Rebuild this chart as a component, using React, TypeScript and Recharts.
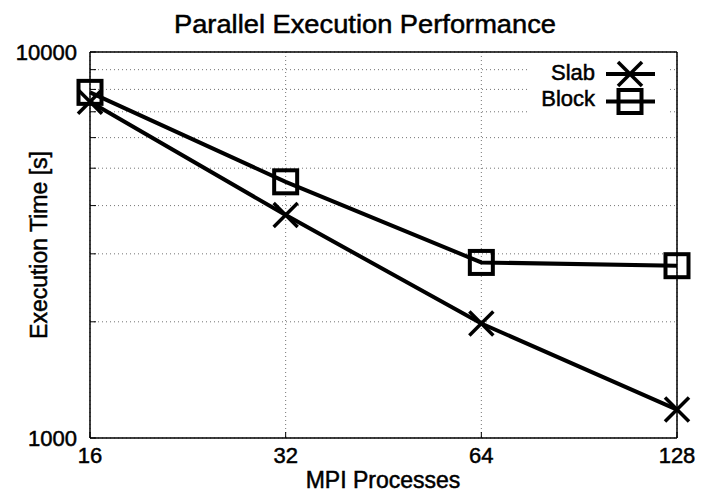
import React from 'react';
import { LineChart, Line, XAxis, YAxis, CartesianGrid, Legend } from 'recharts';

const processes = [16, 32, 64, 128];
const slabTimes = [7430, 3780, 1980, 1185];
const blockTimes = [7860, 4610, 2850, 2795];
const xTicks = [16, 32, 64, 128];
const yTicks = [1000, 2000, 3000, 4000, 5000, 6000, 7000, 8000, 9000, 10000];
const yLabeled = [1000, 10000];
const title = 'Parallel Execution Performance';
const xLabel = 'MPI Processes';
const yLabel = 'Execution Time [s]';
const seriesNames = ['Slab', 'Block'];

const data = processes.map((p, i) => ({ p, slab: slabTimes[i], block: blockTimes[i] }));

const FONT = '"Liberation Sans", Arial, sans-serif';
const tickStyle = { fill: '#000', fontSize: 22, fontFamily: FONT, stroke: '#000', strokeWidth: 0.5 };

const XMark = ({ cx, cy, r = 12 }: { cx: number; cy: number; r?: number }) => (
  <g>
    <line x1={cx - r} y1={cy - r} x2={cx + r} y2={cy + r} stroke="#000" strokeWidth={3.5} />
    <line x1={cx - r} y1={cy + r} x2={cx + r} y2={cy - r} stroke="#000" strokeWidth={3.5} />
  </g>
);

const SquareMark = ({ cx, cy, r = 11.5 }: { cx: number; cy: number; r?: number }) => (
  <rect x={cx - r} y={cy - r} width={2 * r} height={2 * r} fill="none" stroke="#000" strokeWidth={4} />
);

const renderXDot = (props: any) => {
  const { cx, cy, index } = props;
  if (cx == null || cy == null) return <g key={`xd-${index}`} />;
  return (
    <g key={`xd-${index}`}>
      <XMark cx={cx} cy={cy} />
    </g>
  );
};

const renderSqDot = (props: any) => {
  const { cx, cy, index } = props;
  if (cx == null || cy == null) return <g key={`sd-${index}`} />;
  return (
    <g key={`sd-${index}`}>
      <SquareMark cx={cx} cy={cy} />
    </g>
  );
};

const legendText = { fontSize: 22, fontFamily: FONT, fill: '#000', stroke: '#000', strokeWidth: 0.5 };

const LegendContent = () => (
  <svg width={140} height={60} style={{ display: 'block', background: '#fff' }}>
    <text x={68} y={22} textAnchor="end" {...legendText}>
      {seriesNames[0]}
    </text>
    <line x1={79} x2={128} y1={16} y2={16} stroke="#000" strokeWidth={4} />
    <XMark cx={103} cy={16} />
    <text x={68} y={48} textAnchor="end" {...legendText}>
      {seriesNames[1]}
    </text>
    <line x1={79} x2={128} y1={43.5} y2={43.5} stroke="#000" strokeWidth={4} />
    <SquareMark cx={103} cy={43.5} />
  </svg>
);

const yFmt = (v: number) => (yLabeled.includes(v) ? String(v) : '');

export default function App() {
  return (
    <div style={{ position: 'absolute', left: 0, top: 0, width: 702, height: 496, background: '#fff' }}>
      <LineChart
        width={702}
        height={496}
        data={data}
        margin={{ top: 51, right: 24, bottom: 18, left: 10 }}
      >
        <CartesianGrid stroke="#000" strokeOpacity={0.55} strokeDasharray="1 3" />
        <XAxis
          dataKey="p"
          type="number"
          scale="log"
          domain={[16, 128]}
          ticks={xTicks}
          interval={0}
          height={40}
          tickSize={-6}
          tickMargin={15}
          tick={tickStyle}
          axisLine={{ stroke: '#000', strokeWidth: 1.5 }}
          tickLine={{ stroke: '#000' }}
        />
        <XAxis
          xAxisId="top"
          orientation="top"
          dataKey="p"
          type="number"
          scale="log"
          domain={[16, 128]}
          ticks={xTicks}
          interval={0}
          height={1}
          tickSize={-6}
          tick={false}
          axisLine={{ stroke: '#000', strokeWidth: 1.5 }}
          tickLine={{ stroke: '#000' }}
        />
        <YAxis
          type="number"
          scale="log"
          domain={[1000, 10000]}
          ticks={yTicks}
          interval={0}
          width={80}
          tickSize={-6}
          tickMargin={19}
          tickFormatter={yFmt}
          tick={tickStyle}
          axisLine={{ stroke: '#000', strokeWidth: 1.5 }}
          tickLine={{ stroke: '#000' }}
        />
        <YAxis
          yAxisId="right"
          orientation="right"
          type="number"
          scale="log"
          domain={[1000, 10000]}
          ticks={yTicks}
          interval={0}
          width={1}
          tickSize={-6}
          tick={false}
          axisLine={{ stroke: '#000', strokeWidth: 1.5 }}
          tickLine={{ stroke: '#000' }}
        />
        <Line
          dataKey="slab"
          name={seriesNames[0]}
          stroke="#000"
          strokeWidth={4}
          dot={renderXDot}
          activeDot={false}
          isAnimationActive={false}
        />
        <Line
          dataKey="block"
          name={seriesNames[1]}
          stroke="#000"
          strokeWidth={4}
          dot={renderSqDot}
          activeDot={false}
          isAnimationActive={false}
        />
        <Legend
          layout="vertical"
          align="center"
          verticalAlign="middle"
          width={140}
          height={60}
          content={LegendContent}
          wrapperStyle={{ left: 527, top: 58, width: 140, height: 60 }}
        />
      </LineChart>
      <svg
        width={702}
        height={496}
        style={{ position: 'absolute', left: 0, top: 0, pointerEvents: 'none' }}
      >
        <text
          x={365}
          y={33}
          textAnchor="middle"
          fontSize={26}
          fontFamily={FONT}
          fill="#000"
          stroke="#000"
          strokeWidth={0.5}
          textLength={382}
          lengthAdjust="spacingAndGlyphs"
        >
          {title}
        </text>
        <text
          x={383}
          y={488}
          textAnchor="middle"
          fontSize={23}
          fontFamily={FONT}
          fill="#000"
          stroke="#000"
          strokeWidth={0.5}
        >
          {xLabel}
        </text>
        <text
          x={47}
          y={245}
          textAnchor="middle"
          fontSize={23}
          fontFamily={FONT}
          fill="#000"
          stroke="#000"
          strokeWidth={0.5}
          transform="rotate(-90 47 245)"
        >
          {yLabel}
        </text>
      </svg>
    </div>
  );
}
